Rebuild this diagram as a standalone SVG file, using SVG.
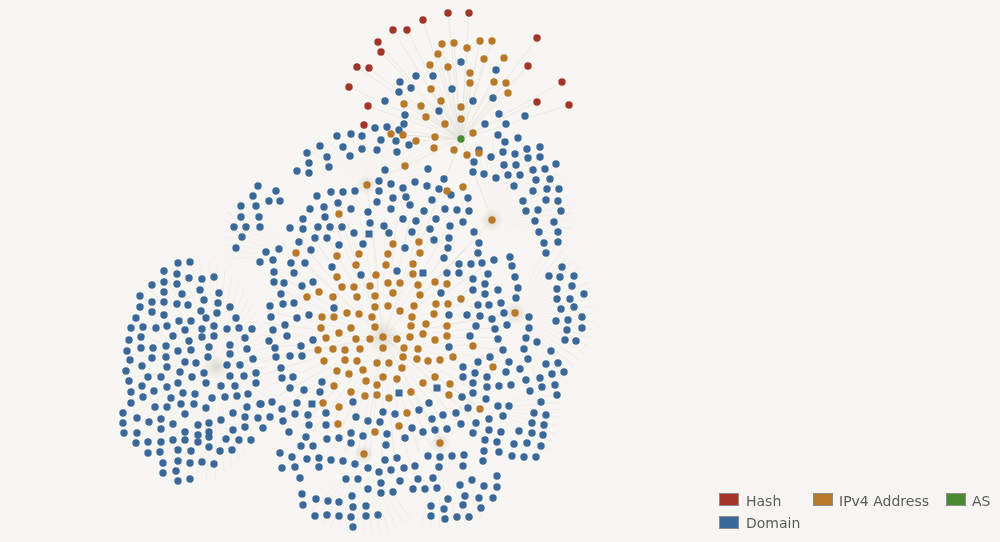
<svg xmlns="http://www.w3.org/2000/svg" xmlns:xlink="http://www.w3.org/1999/xlink" width="1000" height="542" viewBox="0 0 1000 542">
<style>
circle{r:3.7px}
.b circle,.b rect{fill:#3a6898}
.o circle{fill:#b8792a}
.h circle{fill:#a33429}
.a circle{fill:#4a8c32}
.lg text{font-family:"DejaVu Sans","Liberation Sans",sans-serif;font-size:14px;fill:#5b5b5b}
.lg rect{stroke:#8c8c8c;stroke-width:1}
.sp{opacity:.22}
</style>
<defs>
<circle id="spk" r="50" fill="none" stroke="#c4c0b7" stroke-width="100" stroke-dasharray="0.45 4.79" style="r:50px"/>
<radialGradient id="hz"><stop offset="0" stop-color="#cdc8be" stop-opacity=".6"/><stop offset="1" stop-color="#cdc8be" stop-opacity="0"/></radialGradient>
<clipPath id="c0"><ellipse cx="192" cy="372" rx="76" ry="114"/></clipPath>
<clipPath id="c1"><polygon points="492,220 468,140 600,140 600,262"/></clipPath>
<clipPath id="c2"><polygon points="515,313 545,245 600,245 600,405 540,405"/></clipPath>
<clipPath id="c3"><polygon points="364,454 285,535 425,535"/></clipPath>
<clipPath id="c4"><polygon points="440,443 415,535 505,535"/></clipPath>
<clipPath id="c5"><polygon points="367,185 285,140 425,140 420,190"/></clipPath>
<clipPath id="c6"><polygon points="296,253 222,172 228,262"/></clipPath>
<clipPath id="c7"><polygon points="480,409 565,380 565,470"/></clipPath>
</defs>
<rect width="1000" height="542" fill="#f7f6f2"/>
<g id="connectors">
<g class="sp">
<use xlink:href="#spk" transform="translate(383,337) scale(1.2)"/>
<g clip-path="url(#c0)"><use xlink:href="#spk" transform="translate(216,367) scale(0.9,1.15)"/></g>
<g clip-path="url(#c1)"><use xlink:href="#spk" transform="translate(492,220) scale(0.8)"/></g>
<g clip-path="url(#c2)"><use xlink:href="#spk" transform="translate(515,313) scale(0.8)"/></g>
<g clip-path="url(#c3)"><use xlink:href="#spk" transform="translate(364,454) scale(0.8)"/></g>
<g clip-path="url(#c4)"><use xlink:href="#spk" transform="translate(440,443) scale(0.85)"/></g>
<g clip-path="url(#c5)"><use xlink:href="#spk" transform="translate(367,185) scale(0.7)"/></g>
<g clip-path="url(#c6)"><use xlink:href="#spk" transform="translate(296,253) scale(0.8)"/></g>
<g clip-path="url(#c7)"><use xlink:href="#spk" transform="translate(480,409) scale(0.8)"/></g>
</g>
<path fill="none" stroke="#dcd9d2" stroke-width="0.6" opacity="0.7" d="M461 139L448 13M461 139L469 13M461 139L423 20M461 139L393 30M461 139L407 30M461 139L378 42M461 139L381 52M461 139L537 38M461 139L357 67M461 139L369 68M461 139L528 66M461 139L349 87M461 139L562 82M461 139L368 106M461 139L537 102M461 139L569 105M461 139L364 125M461 139L442 44M461 139L454 43M461 139L467 48M461 139L480 41M461 139L492 41M461 139L438 54M461 139L484 59M461 139L504 58M461 139L430 65M461 139L448 67M461 139L470 73M461 139L494 82M461 139L506 83M461 139L508 93M461 139L431 89M461 139L404 104M461 139L421 106M461 139L441 101M461 139L426 117M461 139L391 134M461 139L403 135M461 139L416 141M461 139L434 148M461 139L454 150M461 139L467 155M461 139L479 153M461 139L367 185M461 139L492 220M461 139L383 337M383 337L364 454M383 337L440 443M383 337L515 313M383 337L492 220M383 337L367 185M383 337L296 253M383 337L216 367M383 337L480 409M383 337L339 214M383 337L449 395"/>
<g fill="url(#hz)"><circle cx="383" cy="337" style="r:16px"/><circle cx="216" cy="367" style="r:12px"/><circle cx="492" cy="220" style="r:12px"/><circle cx="515" cy="313" style="r:12px"/><circle cx="364" cy="454" style="r:10px"/><circle cx="440" cy="443" style="r:10px"/><circle cx="367" cy="185" style="r:10px"/></g>
</g>
<g id="domain-left" class="b">
<circle cx="178" cy="263"/><circle cx="190" cy="262"/><circle cx="164" cy="271"/><circle cx="177" cy="274"/><circle cx="189" cy="278"/><circle cx="202" cy="279"/><circle cx="214" cy="277"/><circle cx="152" cy="285"/><circle cx="164" cy="282"/><circle cx="177" cy="284"/><circle cx="164" cy="292"/><circle cx="182" cy="294"/><circle cx="200" cy="290"/><circle cx="219" cy="293"/><circle cx="140" cy="296"/><circle cx="152" cy="302"/><circle cx="164" cy="302"/><circle cx="177" cy="304"/><circle cx="188" cy="305"/><circle cx="204" cy="300"/><circle cx="218" cy="303"/><circle cx="140" cy="307"/><circle cx="152" cy="312"/><circle cx="164" cy="315"/><circle cx="201" cy="311"/><circle cx="217" cy="313"/><circle cx="230" cy="307"/><circle cx="136" cy="318"/><circle cx="179" cy="321"/><circle cx="191" cy="321"/><circle cx="206" cy="318"/><circle cx="236" cy="318"/><circle cx="131" cy="328"/><circle cx="143" cy="327"/><circle cx="156" cy="328"/><circle cx="167" cy="326"/><circle cx="185" cy="330"/><circle cx="202" cy="329"/><circle cx="214" cy="326"/><circle cx="227" cy="329"/><circle cx="239" cy="328"/><circle cx="252" cy="329"/><circle cx="129" cy="340"/><circle cx="141" cy="337"/><circle cx="173" cy="336"/><circle cx="189" cy="341"/><circle cx="202" cy="337"/><circle cx="214" cy="336"/><circle cx="245" cy="338"/><circle cx="230" cy="345"/><circle cx="141" cy="348"/><circle cx="153" cy="348"/><circle cx="166" cy="346"/><circle cx="127" cy="351"/><circle cx="178" cy="351"/><circle cx="191" cy="350"/><circle cx="209" cy="347"/><circle cx="247" cy="349"/><circle cx="152" cy="358"/><circle cx="166" cy="357"/><circle cx="130" cy="360"/><circle cx="185" cy="362"/><circle cx="208" cy="357"/><circle cx="230" cy="354"/><circle cx="253" cy="359"/><circle cx="126" cy="371"/><circle cx="142" cy="366"/><circle cx="167" cy="367"/><circle cx="180" cy="372"/><circle cx="196" cy="363"/><circle cx="227" cy="365"/><circle cx="240" cy="365"/><circle cx="148" cy="377"/><circle cx="161" cy="377"/><circle cx="129" cy="381"/><circle cx="192" cy="377"/><circle cx="204" cy="373"/><circle cx="230" cy="376"/><circle cx="244" cy="376"/><circle cx="256" cy="373"/><circle cx="142" cy="386"/><circle cx="154" cy="391"/><circle cx="167" cy="387"/><circle cx="178" cy="383"/><circle cx="206" cy="383"/><circle cx="221" cy="386"/><circle cx="235" cy="386"/><circle cx="256" cy="383"/><circle cx="131" cy="392"/><circle cx="143" cy="397"/><circle cx="183" cy="393"/><circle cx="195" cy="394"/><circle cx="171" cy="398"/><circle cx="212" cy="398"/><circle cx="225" cy="397"/><circle cx="237" cy="396"/><circle cx="248" cy="394"/><circle cx="131" cy="403"/><circle cx="155" cy="407"/><circle cx="167" cy="407"/><circle cx="181" cy="404"/><circle cx="194" cy="404"/><circle cx="206" cy="408"/><circle cx="233" cy="413"/><circle cx="247" cy="407"/><circle cx="260" cy="404"/><circle cx="123" cy="413"/><circle cx="137" cy="418"/><circle cx="149" cy="422"/><circle cx="161" cy="419"/><circle cx="173" cy="424"/><circle cx="185" cy="414"/><circle cx="198" cy="425"/><circle cx="209" cy="423"/><circle cx="221" cy="420"/><circle cx="245" cy="417"/><circle cx="258" cy="418"/><circle cx="123" cy="423"/><circle cx="124" cy="433"/><circle cx="137" cy="433"/><circle cx="161" cy="429"/><circle cx="185" cy="432"/><circle cx="198" cy="435"/><circle cx="209" cy="432"/><circle cx="233" cy="430"/><circle cx="245" cy="427"/><circle cx="136" cy="443"/><circle cx="148" cy="442"/><circle cx="161" cy="442"/><circle cx="173" cy="440"/><circle cx="185" cy="440"/><circle cx="198" cy="442"/><circle cx="209" cy="437"/><circle cx="226" cy="439"/><circle cx="239" cy="440"/><circle cx="251" cy="440"/><circle cx="148" cy="453"/><circle cx="160" cy="452"/><circle cx="178" cy="450"/><circle cx="191" cy="451"/><circle cx="209" cy="447"/><circle cx="220" cy="451"/><circle cx="232" cy="450"/><circle cx="163" cy="463"/><circle cx="178" cy="461"/><circle cx="190" cy="463"/><circle cx="202" cy="462"/><circle cx="214" cy="464"/><circle cx="163" cy="473"/><circle cx="176" cy="471"/><circle cx="178" cy="481"/><circle cx="190" cy="479"/>
</g>
<g id="domain-top" class="b">
<circle cx="461" cy="62"/><circle cx="496" cy="70"/><circle cx="416" cy="76"/><circle cx="433" cy="76"/><circle cx="400" cy="82"/><circle cx="411" cy="88"/><circle cx="399" cy="92"/><circle cx="452" cy="89"/><circle cx="493" cy="98"/><circle cx="385" cy="101"/><circle cx="473" cy="101"/><circle cx="439" cy="111"/><circle cx="405" cy="115"/><circle cx="499" cy="114"/><circle cx="525" cy="116"/><circle cx="404" cy="124"/><circle cx="485" cy="124"/><circle cx="506" cy="124"/><circle cx="375" cy="128"/><circle cx="387" cy="127"/><circle cx="399" cy="130"/><circle cx="337" cy="136"/><circle cx="351" cy="134"/><circle cx="362" cy="136"/><circle cx="498" cy="135"/><circle cx="381" cy="140"/><circle cx="396" cy="141"/><circle cx="409" cy="145"/><circle cx="505" cy="142"/><circle cx="518" cy="138"/><circle cx="343" cy="147"/><circle cx="362" cy="149"/><circle cx="377" cy="150"/><circle cx="397" cy="152"/><circle cx="479" cy="150"/><circle cx="503" cy="152"/><circle cx="515" cy="154"/><circle cx="527" cy="149"/><circle cx="540" cy="147"/><circle cx="350" cy="156"/><circle cx="491" cy="157"/><circle cx="528" cy="158"/><circle cx="540" cy="157"/><circle cx="320" cy="146"/><circle cx="307" cy="153"/><circle cx="327" cy="157"/>
</g>
<g id="domain-upper-left" class="b">
<circle cx="309" cy="163"/><circle cx="329" cy="167"/><circle cx="297" cy="171"/><circle cx="309" cy="173"/><circle cx="385" cy="170"/><circle cx="379" cy="181"/><circle cx="391" cy="184"/><circle cx="403" cy="188"/><circle cx="415" cy="182"/><circle cx="258" cy="186"/><circle cx="276" cy="191"/><circle cx="331" cy="192"/><circle cx="343" cy="192"/><circle cx="355" cy="191"/><circle cx="379" cy="191"/><circle cx="393" cy="198"/><circle cx="406" cy="197"/><circle cx="253" cy="196"/><circle cx="269" cy="201"/><circle cx="280" cy="201"/><circle cx="317" cy="196"/><circle cx="338" cy="203"/><circle cx="377" cy="202"/><circle cx="241" cy="206"/><circle cx="256" cy="206"/><circle cx="324" cy="207"/><circle cx="310" cy="209"/><circle cx="351" cy="209"/><circle cx="368" cy="212"/><circle cx="391" cy="209"/><circle cx="410" cy="205"/><circle cx="241" cy="217"/><circle cx="259" cy="217"/><circle cx="303" cy="219"/><circle cx="325" cy="217"/><circle cx="403" cy="219"/><circle cx="234" cy="227"/><circle cx="246" cy="227"/><circle cx="260" cy="227"/><circle cx="290" cy="228"/><circle cx="303" cy="229"/><circle cx="318" cy="227"/><circle cx="330" cy="227"/><circle cx="342" cy="227"/><circle cx="370" cy="223"/><circle cx="384" cy="226"/><circle cx="416" cy="221"/><circle cx="242" cy="237"/><circle cx="299" cy="242"/><circle cx="315" cy="238"/><circle cx="327" cy="238"/><circle cx="354" cy="233"/><circle cx="389" cy="233"/><circle cx="412" cy="232"/><circle cx="236" cy="248"/><circle cx="339" cy="245"/><circle cx="363" cy="244"/><circle cx="405" cy="248"/><circle cx="311" cy="250"/><circle cx="266" cy="252"/><circle cx="279" cy="249"/><circle cx="273" cy="260"/><circle cx="260" cy="262"/><circle cx="291" cy="263"/><circle cx="305" cy="263"/><circle cx="332" cy="267"/><circle cx="274" cy="272"/><circle cx="294" cy="273"/><circle cx="361" cy="275"/><circle cx="397" cy="271"/>
<rect x="365.5" y="230.5" width="7" height="7"/>
</g>
<g id="domain-upper-right" class="b">
<circle cx="428" cy="169"/><circle cx="474" cy="162"/><circle cx="473" cy="172"/><circle cx="484" cy="174"/><circle cx="496" cy="178"/><circle cx="504" cy="165"/><circle cx="516" cy="165"/><circle cx="508" cy="175"/><circle cx="520" cy="175"/><circle cx="556" cy="164"/><circle cx="533" cy="170"/><circle cx="545" cy="169"/><circle cx="444" cy="179"/><circle cx="536" cy="180"/><circle cx="550" cy="179"/><circle cx="514" cy="186"/><circle cx="427" cy="186"/><circle cx="439" cy="189"/><circle cx="533" cy="191"/><circle cx="547" cy="189"/><circle cx="559" cy="189"/><circle cx="451" cy="195"/><circle cx="468" cy="198"/><circle cx="432" cy="200"/><circle cx="523" cy="201"/><circle cx="546" cy="200"/><circle cx="558" cy="201"/><circle cx="445" cy="209"/><circle cx="457" cy="210"/><circle cx="469" cy="211"/><circle cx="526" cy="211"/><circle cx="538" cy="210"/><circle cx="561" cy="211"/><circle cx="424" cy="211"/><circle cx="436" cy="219"/><circle cx="450" cy="226"/><circle cx="463" cy="222"/><circle cx="535" cy="221"/><circle cx="554" cy="222"/><circle cx="430" cy="229"/><circle cx="474" cy="232"/><circle cx="539" cy="232"/><circle cx="558" cy="232"/><circle cx="449" cy="238"/><circle cx="434" cy="240"/><circle cx="479" cy="243"/><circle cx="544" cy="243"/><circle cx="558" cy="242"/><circle cx="448" cy="248"/>
<rect x="419.5" y="269.5" width="7" height="7"/>
</g>
<g id="domain-right" class="b">
<circle cx="444" cy="258"/><circle cx="478" cy="253"/><circle cx="494" cy="260"/><circle cx="510" cy="257"/><circle cx="546" cy="253"/><circle cx="459" cy="264"/><circle cx="471" cy="264"/><circle cx="482" cy="263"/><circle cx="512" cy="266"/><circle cx="447" cy="273"/><circle cx="459" cy="273"/><circle cx="473" cy="279"/><circle cx="488" cy="274"/><circle cx="515" cy="277"/><circle cx="562" cy="267"/><circle cx="549" cy="276"/><circle cx="560" cy="277"/><circle cx="574" cy="276"/><circle cx="473" cy="290"/><circle cx="485" cy="284"/><circle cx="498" cy="290"/><circle cx="518" cy="288"/><circle cx="557" cy="289"/><circle cx="572" cy="286"/><circle cx="584" cy="294"/><circle cx="441" cy="293"/><circle cx="485" cy="294"/><circle cx="516" cy="298"/><circle cx="557" cy="299"/><circle cx="570" cy="299"/><circle cx="478" cy="305"/><circle cx="489" cy="305"/><circle cx="501" cy="303"/><circle cx="561" cy="309"/><circle cx="574" cy="307"/><circle cx="449" cy="315"/><circle cx="467" cy="315"/><circle cx="480" cy="316"/><circle cx="492" cy="319"/><circle cx="504" cy="313"/><circle cx="529" cy="317"/><circle cx="556" cy="321"/><circle cx="568" cy="320"/><circle cx="582" cy="317"/><circle cx="476" cy="326"/><circle cx="507" cy="325"/><circle cx="529" cy="328"/><circle cx="495" cy="329"/><circle cx="567" cy="330"/><circle cx="582" cy="328"/><circle cx="470" cy="336"/><circle cx="498" cy="339"/><circle cx="526" cy="338"/><circle cx="537" cy="342"/><circle cx="565" cy="340"/><circle cx="576" cy="341"/><circle cx="449" cy="347"/><circle cx="503" cy="350"/><circle cx="524" cy="349"/><circle cx="551" cy="351"/><circle cx="490" cy="357"/><circle cx="478" cy="362"/><circle cx="509" cy="362"/><circle cx="528" cy="359"/><circle cx="546" cy="364"/><circle cx="558" cy="363"/><circle cx="463" cy="367"/><circle cx="463" cy="377"/><circle cx="475" cy="373"/><circle cx="487" cy="377"/><circle cx="506" cy="372"/><circle cx="520" cy="369"/><circle cx="526" cy="380"/><circle cx="540" cy="378"/><circle cx="552" cy="374"/><circle cx="564" cy="372"/><circle cx="473" cy="383"/><circle cx="487" cy="387"/><circle cx="499" cy="386"/><circle cx="511" cy="385"/><circle cx="530" cy="391"/><circle cx="542" cy="387"/><circle cx="555" cy="385"/>
<rect x="433.5" y="384.5" width="7" height="7"/>
</g>
<g id="domain-middle-left" class="b">
<circle cx="274" cy="282"/><circle cx="284" cy="283"/><circle cx="302" cy="286"/><circle cx="313" cy="282"/><circle cx="281" cy="294"/><circle cx="270" cy="306"/><circle cx="283" cy="304"/><circle cx="294" cy="303"/><circle cx="334" cy="308"/><circle cx="271" cy="317"/><circle cx="297" cy="318"/><circle cx="309" cy="315"/><circle cx="285" cy="325"/><circle cx="273" cy="330"/><circle cx="287" cy="336"/><circle cx="269" cy="341"/><circle cx="313" cy="340"/><circle cx="301" cy="346"/><circle cx="275" cy="348"/><circle cx="276" cy="357"/><circle cx="290" cy="356"/><circle cx="302" cy="356"/><circle cx="281" cy="368"/><circle cx="282" cy="378"/><circle cx="293" cy="377"/><circle cx="322" cy="382"/><circle cx="290" cy="388"/><circle cx="304" cy="390"/><circle cx="320" cy="392"/>
</g>
<g id="domain-bottom" class="b">
<circle cx="272" cy="402"/><circle cx="261" cy="404"/><circle cx="297" cy="403"/><circle cx="353" cy="402"/><circle cx="282" cy="409"/><circle cx="270" cy="417"/><circle cx="295" cy="414"/><circle cx="308" cy="415"/><circle cx="326" cy="413"/><circle cx="383" cy="412"/><circle cx="395" cy="414"/><circle cx="419" cy="410"/><circle cx="429" cy="403"/><circle cx="263" cy="428"/><circle cx="283" cy="421"/><circle cx="356" cy="417"/><circle cx="368" cy="421"/><circle cx="380" cy="422"/><circle cx="309" cy="425"/><circle cx="326" cy="425"/><circle cx="412" cy="428"/><circle cx="423" cy="432"/><circle cx="289" cy="432"/><circle cx="351" cy="433"/><circle cx="387" cy="434"/><circle cx="363" cy="436"/><circle cx="306" cy="437"/><circle cx="339" cy="438"/><circle cx="327" cy="439"/><circle cx="351" cy="443"/><circle cx="405" cy="438"/><circle cx="301" cy="446"/><circle cx="313" cy="446"/><circle cx="386" cy="445"/><circle cx="280" cy="453"/><circle cx="292" cy="457"/><circle cx="307" cy="459"/><circle cx="319" cy="458"/><circle cx="331" cy="460"/><circle cx="343" cy="461"/><circle cx="355" cy="464"/><circle cx="368" cy="468"/><circle cx="385" cy="460"/><circle cx="397" cy="458"/><circle cx="415" cy="466"/><circle cx="428" cy="456"/><circle cx="282" cy="468"/><circle cx="295" cy="467"/><circle cx="319" cy="467"/><circle cx="391" cy="470"/><circle cx="404" cy="468"/><circle cx="379" cy="472"/><circle cx="300" cy="478"/><circle cx="346" cy="479"/><circle cx="358" cy="479"/><circle cx="381" cy="483"/><circle cx="400" cy="481"/><circle cx="418" cy="479"/><circle cx="368" cy="489"/><circle cx="381" cy="493"/><circle cx="393" cy="492"/><circle cx="413" cy="489"/><circle cx="425" cy="489"/><circle cx="302" cy="494"/><circle cx="316" cy="499"/><circle cx="328" cy="501"/><circle cx="339" cy="502"/><circle cx="352" cy="496"/><circle cx="303" cy="505"/><circle cx="353" cy="507"/><circle cx="366" cy="506"/><circle cx="315" cy="516"/><circle cx="327" cy="515"/><circle cx="339" cy="516"/><circle cx="351" cy="517"/><circle cx="366" cy="516"/><circle cx="378" cy="515"/><circle cx="353" cy="527"/>
<rect x="395.5" y="389.5" width="7" height="7"/><rect x="308.5" y="400.5" width="7" height="7"/>
</g>
<g id="domain-bottom-right" class="b">
<circle cx="462" cy="397"/><circle cx="473" cy="393"/><circle cx="486" cy="399"/><circle cx="557" cy="395"/><circle cx="468" cy="408"/><circle cx="498" cy="406"/><circle cx="509" cy="406"/><circle cx="541" cy="402"/><circle cx="432" cy="419"/><circle cx="443" cy="415"/><circle cx="456" cy="413"/><circle cx="489" cy="419"/><circle cx="503" cy="416"/><circle cx="534" cy="413"/><circle cx="546" cy="415"/><circle cx="435" cy="430"/><circle cx="447" cy="429"/><circle cx="461" cy="424"/><circle cx="476" cy="423"/><circle cx="489" cy="430"/><circle cx="501" cy="432"/><circle cx="519" cy="431"/><circle cx="532" cy="423"/><circle cx="544" cy="425"/><circle cx="473" cy="433"/><circle cx="532" cy="433"/><circle cx="543" cy="435"/><circle cx="485" cy="440"/><circle cx="497" cy="442"/><circle cx="514" cy="444"/><circle cx="527" cy="443"/><circle cx="541" cy="446"/><circle cx="484" cy="451"/><circle cx="499" cy="452"/><circle cx="512" cy="456"/><circle cx="524" cy="457"/><circle cx="536" cy="457"/><circle cx="440" cy="457"/><circle cx="452" cy="456"/><circle cx="464" cy="455"/><circle cx="483" cy="461"/><circle cx="439" cy="467"/><circle cx="463" cy="466"/><circle cx="433" cy="478"/><circle cx="472" cy="480"/><circle cx="497" cy="476"/><circle cx="437" cy="488"/><circle cx="460" cy="485"/><circle cx="484" cy="486"/><circle cx="497" cy="487"/><circle cx="448" cy="499"/><circle cx="465" cy="496"/><circle cx="479" cy="498"/><circle cx="493" cy="498"/><circle cx="431" cy="506"/><circle cx="444" cy="509"/><circle cx="463" cy="505"/><circle cx="481" cy="508"/><circle cx="431" cy="516"/><circle cx="445" cy="519"/><circle cx="457" cy="517"/><circle cx="469" cy="517"/>
</g>
<g id="ipv4" class="o">
<circle cx="442" cy="44"/><circle cx="454" cy="43"/><circle cx="467" cy="48"/><circle cx="480" cy="41"/><circle cx="492" cy="41"/><circle cx="438" cy="54"/><circle cx="484" cy="59"/><circle cx="504" cy="58"/><circle cx="430" cy="65"/><circle cx="448" cy="67"/><circle cx="470" cy="73"/><circle cx="470" cy="83"/><circle cx="494" cy="82"/><circle cx="506" cy="83"/><circle cx="508" cy="93"/><circle cx="431" cy="89"/><circle cx="404" cy="104"/><circle cx="421" cy="106"/><circle cx="441" cy="101"/><circle cx="461" cy="107"/><circle cx="426" cy="117"/><circle cx="461" cy="119"/><circle cx="445" cy="124"/><circle cx="391" cy="134"/><circle cx="403" cy="135"/><circle cx="435" cy="137"/><circle cx="416" cy="141"/><circle cx="473" cy="133"/><circle cx="434" cy="148"/><circle cx="454" cy="150"/><circle cx="467" cy="155"/><circle cx="479" cy="153"/>
<circle cx="405" cy="166"/><circle cx="367" cy="185"/><circle cx="339" cy="214"/><circle cx="393" cy="244"/><circle cx="296" cy="253"/><circle cx="337" cy="256"/><circle cx="359" cy="254"/><circle cx="388" cy="254"/><circle cx="420" cy="253"/><circle cx="356" cy="265"/><circle cx="386" cy="265"/><circle cx="413" cy="264"/><circle cx="337" cy="277"/><circle cx="376" cy="275"/><circle cx="413" cy="274"/>
<circle cx="447" cy="191"/><circle cx="463" cy="187"/><circle cx="492" cy="220"/><circle cx="419" cy="242"/>
<circle cx="435" cy="282"/><circle cx="447" cy="284"/><circle cx="461" cy="299"/><circle cx="436" cy="304"/><circle cx="448" cy="304"/><circle cx="515" cy="313"/><circle cx="434" cy="314"/><circle cx="447" cy="326"/><circle cx="447" cy="336"/><circle cx="435" cy="340"/><circle cx="473" cy="346"/><circle cx="453" cy="357"/><circle cx="440" cy="360"/><circle cx="493" cy="367"/><circle cx="435" cy="377"/><circle cx="450" cy="384"/>
<circle cx="342" cy="287"/><circle cx="354" cy="287"/><circle cx="370" cy="286"/><circle cx="388" cy="283"/><circle cx="400" cy="283"/><circle cx="418" cy="285"/><circle cx="307" cy="297"/><circle cx="319" cy="292"/><circle cx="333" cy="297"/><circle cx="357" cy="297"/><circle cx="375" cy="296"/><circle cx="393" cy="293"/><circle cx="420" cy="295"/><circle cx="347" cy="313"/><circle cx="359" cy="314"/><circle cx="375" cy="307"/><circle cx="388" cy="306"/><circle cx="400" cy="311"/><circle cx="414" cy="306"/><circle cx="322" cy="317"/><circle cx="334" cy="317"/><circle cx="372" cy="317"/><circle cx="412" cy="317"/><circle cx="321" cy="328"/><circle cx="351" cy="328"/><circle cx="375" cy="327"/><circle cx="411" cy="326"/><circle cx="426" cy="324"/><circle cx="339" cy="333"/><circle cx="326" cy="338"/><circle cx="356" cy="339"/><circle cx="370" cy="339"/><circle cx="383" cy="337"/><circle cx="397" cy="339"/><circle cx="410" cy="337"/><circle cx="423" cy="334"/><circle cx="318" cy="350"/><circle cx="333" cy="349"/><circle cx="345" cy="350"/><circle cx="360" cy="349"/><circle cx="383" cy="348"/><circle cx="404" cy="348"/><circle cx="418" cy="349"/><circle cx="324" cy="361"/><circle cx="345" cy="360"/><circle cx="357" cy="361"/><circle cx="377" cy="363"/><circle cx="389" cy="363"/><circle cx="403" cy="357"/><circle cx="417" cy="359"/><circle cx="428" cy="361"/><circle cx="337" cy="371"/><circle cx="349" cy="374"/><circle cx="363" cy="370"/><circle cx="402" cy="368"/><circle cx="383" cy="377"/><circle cx="397" cy="379"/><circle cx="366" cy="381"/><circle cx="377" cy="385"/><circle cx="423" cy="383"/><circle cx="334" cy="386"/>
<circle cx="351" cy="392"/><circle cx="365" cy="396"/><circle cx="377" cy="395"/><circle cx="389" cy="398"/><circle cx="411" cy="392"/><circle cx="323" cy="403"/><circle cx="339" cy="407"/><circle cx="407" cy="413"/><circle cx="338" cy="424"/><circle cx="399" cy="426"/><circle cx="375" cy="432"/><circle cx="364" cy="454"/>
<circle cx="449" cy="395"/><circle cx="480" cy="409"/><circle cx="440" cy="443"/>
</g>
<g id="hash" class="h">
<circle cx="448" cy="13"/><circle cx="469" cy="13"/><circle cx="423" cy="20"/><circle cx="393" cy="30"/><circle cx="407" cy="30"/><circle cx="378" cy="42"/><circle cx="381" cy="52"/><circle cx="537" cy="38"/><circle cx="357" cy="67"/><circle cx="369" cy="68"/><circle cx="528" cy="66"/><circle cx="349" cy="87"/><circle cx="562" cy="82"/><circle cx="368" cy="106"/><circle cx="537" cy="102"/><circle cx="569" cy="105"/><circle cx="364" cy="125"/>
</g>
<g id="as" class="a"><circle cx="461" cy="139"/></g>
<g id="legend" class="lg">
<g id="legend-hash"><rect x="719.5" y="493.5" width="19" height="12" fill="#a33429"/><text x="746" y="506">Hash</text></g>
<g id="legend-ipv4"><rect x="813.5" y="493.5" width="19" height="12" fill="#b8792a"/><text x="839" y="506">IPv4 Address</text></g>
<g id="legend-as"><rect x="946.5" y="493.5" width="19" height="12" fill="#4a8c32"/><text x="972" y="506">AS</text></g>
<g id="legend-domain"><rect x="719.5" y="516.5" width="19" height="12" fill="#3a6898"/><text x="746" y="528">Domain</text></g>
</g>
</svg>
